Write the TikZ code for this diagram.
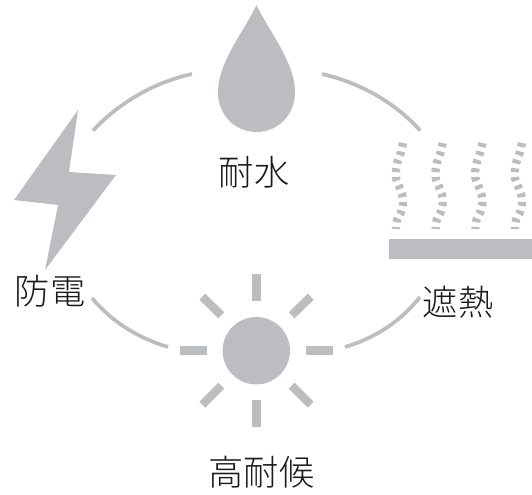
\documentclass[tikz,border=0pt]{standalone}
\usepackage{fontspec}
\newfontfamily\cjk[UprightFont=* Light]{Noto Sans CJK JP}
\definecolor{ig}{RGB}{187,189,192}
\tikzset{
  x=0.75pt,y=-0.75pt,
  arcline/.style={draw=ig,line width=2.8pt,line cap=butt},
  ray/.style={draw=ig,line width=6.3pt},
  wave/.style={draw=ig,line width=6.2pt,dash pattern=on 3pt off 3.55pt},
  lab/.style={font=\cjk\fontsize{26.4}{30}\selectfont,text=black!90,inner sep=0pt}
}
\begin{document}
\begin{tikzpicture}
\useasboundingbox (0,0) rectangle (532,495);
% drop
\fill[ig] (256.5,5) .. controls (245,30) and (218,62) .. (218,92) .. controls (218,115) and (235,132) .. (256.5,132) .. controls (278,132) and (295,115) .. (295,92) .. controls (295,62) and (268,30) .. (256.5,5) -- cycle;
% bolt
\fill[ig] (78,110) -- (69,172) -- (116,175) -- (45,270) -- (58,205) -- (14,200) -- cycle;
% sun
\fill[ig] (256.3,350.7) circle (33.7);
\draw[ray] (256.5,274) -- (256.5,301);
\draw[ray] (256.5,400) -- (256.5,427);
\draw[ray] (180,350.6) -- (207,350.6);
\draw[ray] (306,350.6) -- (333,350.6);
\draw[ray] (202.3,296.7) -- (221.3,315.3);
\draw[ray] (310.7,296.7) -- (291.7,315.3);
\draw[ray] (202.3,404.7) -- (221.3,385.7);
\draw[ray] (310.7,404.7) -- (291.7,385.7);
% plate
\fill[ig] (389,239) rectangle (532,259);
% heat
\foreach \d in {0,39.7,79.4,119}{
\draw[wave,shift={(\d,0)}] plot[smooth] coordinates {(403,143) (401,152) (398,160) (396,170) (396,178) (399,186) (402,194) (403,203) (401,212) (397,220) (396,229)};
}
% arcs
\draw[arcline] (93,130.5) .. controls (120,102) and (155,82) .. (192,74);
\draw[arcline] (322,74) .. controls (358,82) and (395,102) .. (420,130.5);
\draw[arcline] (345,347) .. controls (375,338) and (400,322) .. (420,297);
\draw[arcline] (92,298) .. controls (112,322) and (138,338) .. (168,347);
% labels
\node[lab] (a) at (254,172) {耐水};
\node[lab] (b) at (50,291) {防電};
\node[lab] (c) at (458,302) {遮熱};
\node[lab] (d) at (261.5,472) {高耐候};
\end{tikzpicture}
\end{document}
